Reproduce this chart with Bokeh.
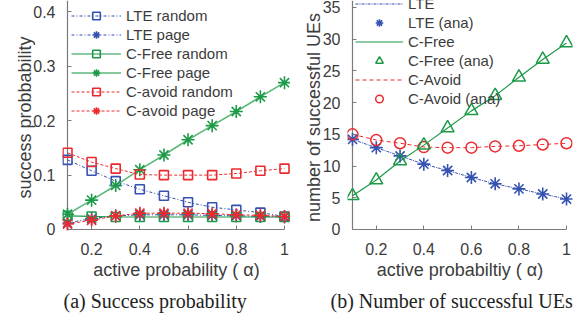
from bokeh.plotting import figure
from bokeh.layouts import row
from bokeh.models import (Range1d, FixedTicker, PrintfTickFormatter, Legend, LegendItem, Title)
from bokeh.embed import file_html
from bokeh.resources import INLINE

# ---------------- data ----------------
alpha = [0.1, 0.2, 0.3, 0.4, 0.5, 0.6, 0.7, 0.8, 0.9, 1.0]

lte_random = [0.128, 0.108, 0.089, 0.074, 0.062, 0.050, 0.041, 0.036, 0.031, 0.024]
lte_page = [0.012, 0.020, 0.025, 0.027, 0.027, 0.027, 0.026, 0.025, 0.024, 0.023]
cfree_random = [0.025, 0.024, 0.023, 0.023, 0.023, 0.023, 0.023, 0.023, 0.023, 0.023]
cfree_page = [0.028, 0.054, 0.081, 0.110, 0.137, 0.165, 0.191, 0.217, 0.244, 0.270]
cavoid_random = [0.141, 0.124, 0.112, 0.101, 0.100, 0.100, 0.100, 0.103, 0.108, 0.112]
cavoid_page = [0.010, 0.017, 0.025, 0.030, 0.030, 0.030, 0.029, 0.027, 0.026, 0.024]

lte_num = [14.2, 12.9, 11.6, 10.3, 9.3, 8.2, 7.2, 6.4, 5.6, 4.8]
cfree_num = [5.3, 7.8, 10.8, 13.3, 16.0, 18.7, 21.1, 24.0, 26.8, 29.4]
cavoid_num = [15.0, 14.1, 13.6, 13.0, 12.9, 12.9, 13.1, 13.2, 13.4, 13.6]

x_ticks = [0.2, 0.4, 0.6, 0.8, 1.0]
y_ticks_a = [0, 0.1, 0.2, 0.3, 0.4]
y_ticks_b = [0, 5, 10, 15, 20, 25, 30, 35]

left_labels = ["LTE random", "LTE page", "C-Free random", "C-Free page", "C-avoid random", "C-avoid page"]
right_labels = ["LTE", "LTE (ana)", "C-Free", "C-Free (ana)", "C-Avoid", "C-Avoid (ana)"]
xlabel_a = "active probability ( \u03b1)"
xlabel_b = "active probabiltiy ( \u03b1)"
ylabel_a = "success probbability"
ylabel_b = "number of successful UEs"
caption_a = "(a) Success probability"
caption_b = "(b) Number of successful UEs"

# ---------------- style ----------------
BLUE = "#3552b0"
GREEN = "#1c9a48"
LGREEN = "#5cb97a"
RED = "#ec2a2e"
AXIS = "#7a7a7a"
TEXT = "#3c3c3c"
SANS = "Liberation Sans"
SERIF = "Liberation Serif"
H = 322


def style(p, ylabel, xlabel, yticks, ystand, ytop):
    p.outline_line_color = None
    p.grid.visible = False
    p.background_fill_color = "white"
    p.border_fill_color = "white"
    for ax in (p.xaxis[0], p.yaxis[0]):
        ax.axis_line_color = None
        ax.major_tick_line_color = AXIS
        ax.major_tick_in = 9
        ax.major_tick_out = -5
        ax.minor_tick_line_color = None
        ax.major_label_text_font = SANS
        ax.major_label_text_font_size = "16px"
        ax.major_label_text_color = TEXT
        ax.axis_label_text_font = SANS
        ax.axis_label_text_font_size = "18px"
        ax.axis_label_text_font_style = "normal"
        ax.axis_label_text_color = TEXT
    p.xaxis[0].ticker = FixedTicker(ticks=x_ticks)
    p.yaxis[0].ticker = FixedTicker(ticks=yticks)
    p.xaxis[0].formatter = PrintfTickFormatter(format="%g")
    p.yaxis[0].formatter = PrintfTickFormatter(format="%g")
    p.xaxis[0].axis_label = xlabel
    p.yaxis[0].axis_label = ylabel
    p.xaxis[0].major_label_standoff = 8
    p.yaxis[0].major_label_standoff = 7
    p.xaxis[0].axis_label_standoff = 2
    p.yaxis[0].axis_label_standoff = ystand
    # axis lines drawn at alpha = first value and y = 0
    p.segment(x0=[alpha[0]], y0=[0], x1=[alpha[-1]], y1=[0], line_color=AXIS, line_width=1.2)
    p.segment(x0=[alpha[0]], y0=[0], x1=[alpha[0]], y1=[ytop], line_color=AXIS, line_width=1.2)


# ---------------- panel (a) ----------------
pa = figure(width=290, height=H, output_backend="svg", toolbar_location=None,
            x_range=Range1d(0.0793, 1.0249), y_range=Range1d(-0.0092, 0.4211),
            min_border_left=62, min_border_right=0, min_border_top=0, min_border_bottom=88)
style(pa, ylabel_a, xlabel_a, y_ticks_a, -5, 0.4211)

series_a = [
    (lte_random, BLUE, BLUE, "3 2 1 2", 1, "square", 9),
    (lte_page, BLUE, BLUE, "3 2 1 2", 1, "asterisk", 13),
    (cfree_random, GREEN, GREEN, "solid", 1.2, "square", 9),
    (cfree_page, LGREEN, GREEN, "solid", 1.6, "asterisk", 13),
    (cavoid_random, RED, RED, "3 2", 1, "square", 9),
    (cavoid_page, RED, RED, "3 2", 1, "asterisk", 13),
]
items_a = []
for (ys, lcol, mcol, dash, lw, mk, sz), lab in zip(series_a, left_labels):
    ln = pa.line(alpha, ys, line_color=lcol, line_dash=dash, line_width=lw)
    sc = pa.scatter(alpha, ys, marker=mk, size=sz, line_color=mcol, fill_color=None, line_width=1.6)
    items_a.append(LegendItem(label=lab, renderers=[ln, sc]))

leg_a = Legend(items=items_a, location=(9, 114), background_fill_alpha=0, border_line_color=None,
               padding=0, margin=0, spacing=0, glyph_width=50, glyph_height=19, label_height=19,
               label_standoff=5, label_text_font=SANS, label_text_font_size="15px",
               label_text_color=TEXT)
pa.add_layout(leg_a)
pa.add_layout(Title(text=caption_a, text_font=SERIF, text_font_size="20px", text_font_style="normal",
                    text_color="#222222", align="left", offset=1), "below")

# ---------------- panel (b) ----------------
pb = figure(width=291, height=H, output_backend="svg", toolbar_location=None,
            x_range=Range1d(0.079, 1.0252), y_range=Range1d(-0.79, 36.1),
            min_border_left=57, min_border_right=9, min_border_top=0, min_border_bottom=88)
style(pb, ylabel_b, xlabel_b, y_ticks_b, -4, 36.1)

l1 = pb.line(alpha, lte_num, line_color=BLUE, line_dash="3 1 1 1", line_width=1)
l2 = pb.line(alpha, cfree_num, line_color=GREEN, line_width=1.2)
l3 = pb.line(alpha, cavoid_num, line_color=RED, line_dash="4 3", line_width=1)
m1 = pb.scatter(alpha, lte_num, marker="asterisk", size=13, line_color=BLUE, line_width=1.6)
m3 = pb.scatter(alpha, cavoid_num, marker="circle", size=11, line_color=RED, fill_color=None, line_width=1.5)
m2 = pb.scatter(alpha, cfree_num, marker="triangle", size=13, line_color=GREEN, fill_color=None, line_width=1.5)

items_b = [LegendItem(label=lab, renderers=[r]) for lab, r in zip(right_labels, [l1, m1, l2, m2, l3, m3])]
leg_b = Legend(items=items_b, location=(8, 126), background_fill_alpha=0, border_line_color=None,
               padding=0, margin=0, spacing=0, glyph_width=48, glyph_height=19, label_height=19,
               label_standoff=5, label_text_font=SANS, label_text_font_size="15px",
               label_text_color=TEXT)
pb.add_layout(leg_b)
pb.add_layout(Title(text=caption_b, text_font=SERIF, text_font_size="20px", text_font_style="normal",
                    text_color="#222222", align="left", offset=-17), "below")

layout = row(pa, pb)
open("out.html", "w").write(file_html(layout, INLINE))
